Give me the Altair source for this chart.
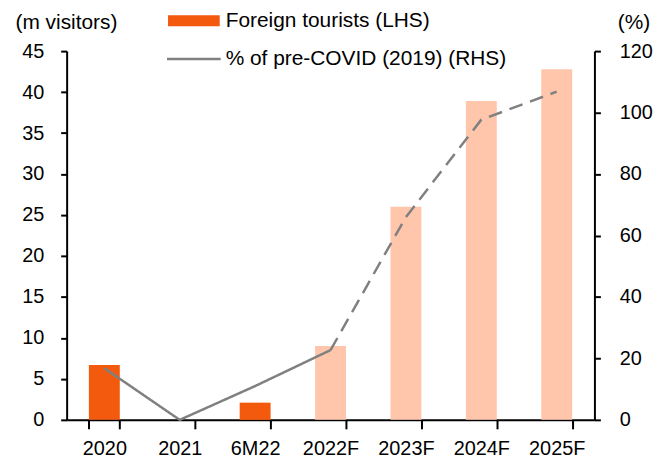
import altair as alt
import pandas as pd

categories = ["2020", "2021", "6M22", "2022F", "2023F", "2024F", "2025F"]
tourists = [6.7, 0.0, 2.1, 9.0, 26.0, 38.9, 42.8]
bar_type = ["Actual", "Actual", "Actual", "Forecast", "Forecast", "Forecast", "Forecast"]
pct_pre_covid = [16.8, 0.0, 11.0, 22.7, 66.0, 97.7, 106.8]
line_segment = ["Actual", "Actual", "Actual", "Actual", "Forecast", "Forecast", "Forecast"]

left_ticks = [0, 5, 10, 15, 20, 25, 30, 35, 40, 45]
right_ticks = [0, 20, 40, 60, 80, 100, 120]

DARK = "#F45A0E"
LIGHT = "#FFC6AB"
GREY = "#808080"
FONT = "Liberation Sans"

bars_df = pd.DataFrame({"cat": categories, "value": tourists, "type": bar_type})

# line data: solid segment up to 2022F, dashed segment from 2022F onwards
rows = []
for c, v, s in zip(categories, pct_pre_covid, line_segment):
    rows.append({"cat": c, "pct": v, "seg": s})
    if c == "2022F":
        rows.append({"cat": c, "pct": v, "seg": "Forecast"})
line_df = pd.DataFrame(rows)
line_df["order"] = [categories.index(c) for c in line_df["cat"]]

x_enc = alt.X(
    "cat:N",
    sort=categories,
    scale=alt.Scale(paddingInner=0.59, paddingOuter=0.295),
    axis=alt.Axis(
        title=None, labelAngle=0, tickBand="extent", tickSize=9, tickWidth=2,
        domainWidth=2, domainColor="black", tickColor="black",
        labelFontSize=20, labelPadding=10, labelColor="black", labelFont=FONT,
    ),
)

bars = alt.Chart(bars_df).mark_bar().encode(
    x=x_enc,
    y=alt.Y(
        "value:Q",
        scale=alt.Scale(domain=[0, 45], nice=False),
        axis=alt.Axis(
            values=left_ticks, grid=False, tickSize=6, tickWidth=2,
            domainWidth=2, domainColor="black", tickColor="black",
            labelFontSize=20, labelPadding=17, labelColor="black", labelFont=FONT,
            title="(m visitors)", titleAngle=0, titleX=-52, titleY=-23,
            titleAlign="left", titleBaseline="alphabetic", titleFontSize=21,
            titleFontWeight="normal", titleFont=FONT, titleColor="black",
        ),
    ),
    color=alt.Color(
        "type:N",
        scale=alt.Scale(domain=["Actual", "Forecast"], range=[DARK, LIGHT]),
        legend=None,
    ),
)

line = alt.Chart(line_df).mark_line(color=GREY, strokeWidth=2.5).encode(
    x=alt.X("cat:N", sort=categories),
    y=alt.Y(
        "pct:Q",
        scale=alt.Scale(domain=[0, 120], nice=False),
        axis=alt.Axis(
            orient="right", values=right_ticks, grid=False, tickSize=6, tickWidth=2,
            domainWidth=2, domainColor="black", tickColor="black",
            labelFontSize=20, labelPadding=19, labelColor="black", labelFont=FONT,
            title="(%)", titleAngle=0, titleX=23, titleY=-23,
            titleAlign="left", titleBaseline="alphabetic", titleFontSize=21,
            titleFontWeight="normal", titleFont=FONT, titleColor="black",
        ),
    ),
    strokeDash=alt.StrokeDash(
        "seg:N",
        scale=alt.Scale(domain=["Actual", "Forecast"], range=[[1, 0], [14, 8]]),
        legend=None,
    ),
    order="order:Q",
)

# legend
legend_labels = ["Foreign tourists (LHS)", "% of pre-COVID (2019) (RHS)"]
leg_df = pd.DataFrame({"label": legend_labels})

leg_rect = alt.Chart(leg_df.iloc[[0]]).mark_rect(color=DARK).encode(
    x=alt.value(102), x2=alt.value(154), y=alt.value(-36), y2=alt.value(-25)
)
leg_line = alt.Chart(leg_df.iloc[[1]]).mark_rule(color=GREY, strokeWidth=2.5).encode(
    x=alt.value(101), x2=alt.value(155), y=alt.value(8)
)
leg_text1 = alt.Chart(leg_df.iloc[[0]]).mark_text(
    align="left", baseline="middle", fontSize=21, font=FONT, color="black"
).encode(x=alt.value(160), y=alt.value(-30), text="label:N")
leg_text2 = alt.Chart(leg_df.iloc[[1]]).mark_text(
    align="left", baseline="middle", fontSize=21, font=FONT, color="black"
).encode(x=alt.value(160), y=alt.value(8), text="label:N")

chart = (
    alt.layer(bars, line, leg_rect, leg_line, leg_text1, leg_text2)
    .resolve_scale(y="independent", color="independent", strokeDash="independent")
    .properties(
        width=531,
        height=371,
        autosize=alt.AutoSizeParams(type="none"),
        padding={"left": 59, "top": 42, "right": 70, "bottom": 38},
        background="white",
    )
    .configure_view(stroke=None)
)

chart.save("out.html", embed_options={"renderer": "svg", "actions": False})
